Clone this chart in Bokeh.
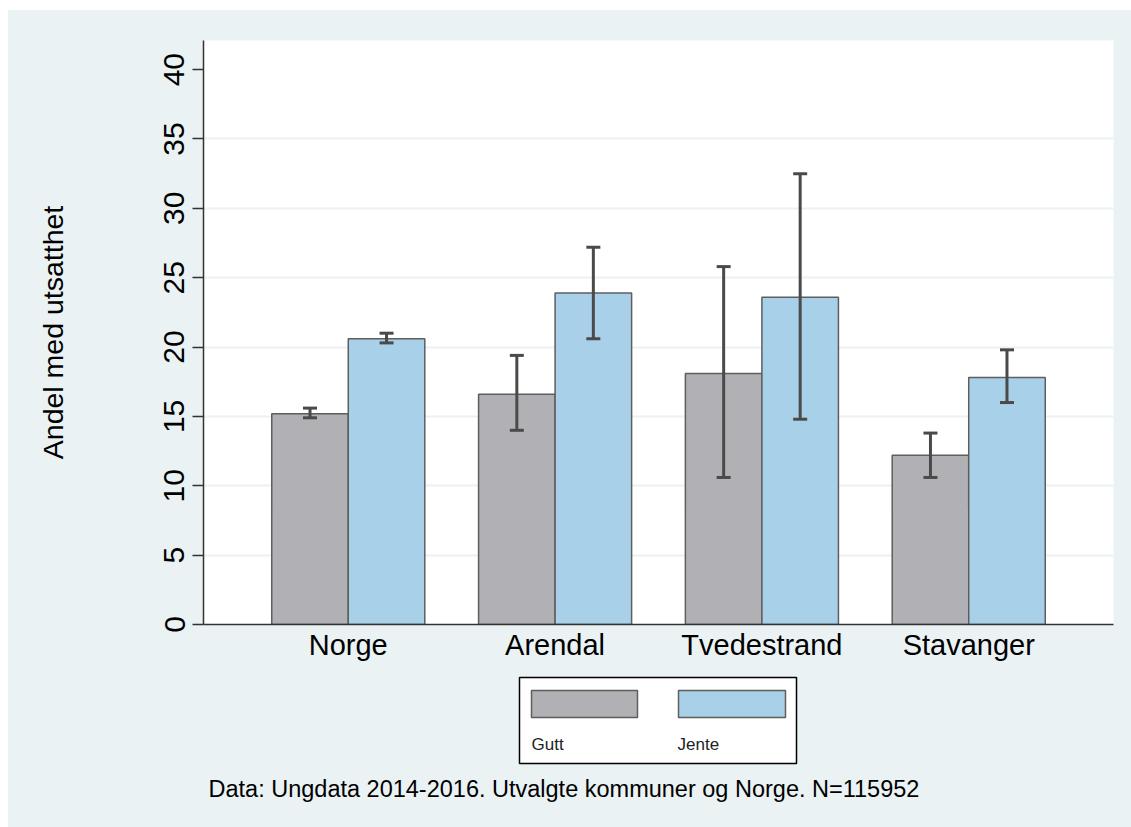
from bokeh.plotting import figure
from bokeh.models import (ColumnDataSource, FactorRange, Range1d, FixedTicker, Whisker,
                          TeeHead, Spacer)
from bokeh.layouts import column, row
from bokeh.transform import dodge
from bokeh.embed import file_html
from bokeh.resources import INLINE
from bokeh.core.properties import value

categories = ["Norge", "Arendal", "Tvedestrand", "Stavanger"]
gutt = [15.2, 16.6, 18.1, 12.2]
gutt_lo = [14.9, 14.0, 10.6, 10.6]
gutt_hi = [15.6, 19.4, 25.8, 13.8]
jente = [20.6, 23.9, 23.6, 17.8]
jente_lo = [20.3, 20.6, 14.8, 16.0]
jente_hi = [21.0, 27.2, 32.5, 19.8]
y_ticks = [0, 5, 10, 15, 20, 25, 30, 35, 40]
grid_ticks = [5, 10, 15, 20, 25, 30, 35]
series_labels = ["Gutt", "Jente"]
caption = "Data: Ungdata 2014-2016. Utvalgte kommuner og Norge. N=115952"

BG = "#eaf2f3"
GRAY = "#b1b1b5"
BLUE = "#a8d0e9"
EDGE = "#5e5e5e"
ERR = "#4a4a4a"
FONT = "Liberation Sans"

src = ColumnDataSource(dict(cat=categories, gutt=gutt, gutt_lo=gutt_lo, gutt_hi=gutt_hi,
                            jente=jente, jente_lo=jente_lo, jente_hi=jente_hi))

p = figure(frame_width=910, frame_height=584, output_backend="svg", toolbar_location=None,
           x_range=FactorRange(factors=categories, range_padding=0.1),
           y_range=Range1d(0, 42.1),
           min_border_left=195, min_border_right=18, min_border_top=30, min_border_bottom=50)
p.background_fill_color = "white"
p.border_fill_color = BG
p.outline_line_color = None

off = 0.185
bw = 0.37
p.vbar(x=dodge("cat", -off, range=p.x_range), top="gutt", width=bw, source=src,
       fill_color=GRAY, line_color=EDGE, line_width=1.5)
p.vbar(x=dodge("cat", off, range=p.x_range), top="jente", width=bw, source=src,
       fill_color=BLUE, line_color=EDGE, line_width=1.5)

for key, d in (("gutt", -off), ("jente", off)):
    w = Whisker(base=dodge("cat", d, range=p.x_range), upper=key + "_hi", lower=key + "_lo",
                source=src, line_color=ERR, line_width=3, level="overlay",
                upper_head=TeeHead(size=14, line_color=ERR, line_width=3),
                lower_head=TeeHead(size=14, line_color=ERR, line_width=3))
    p.add_layout(w)

# axes
p.xaxis.major_tick_line_color = None
p.xaxis.minor_tick_line_color = None
p.xaxis.axis_line_color = "#333333"
p.xaxis.axis_line_width = 1.5
p.xaxis.major_label_text_font = FONT
p.xaxis.major_label_text_font_size = "29px"
p.xaxis.major_label_text_color = "black"
p.xaxis.major_label_standoff = -2

p.yaxis.ticker = FixedTicker(ticks=y_ticks)
p.yaxis.major_tick_in = 0
p.yaxis.major_tick_out = 11
p.yaxis.minor_tick_line_color = None
p.yaxis.axis_line_color = "#333333"
p.yaxis.axis_line_width = 1.5
p.yaxis.major_tick_line_color = "#333333"
p.yaxis.major_tick_line_width = 1.5
p.yaxis.major_label_orientation = "vertical"
p.yaxis.major_label_text_font = FONT
p.yaxis.major_label_text_font_size = "30px"
p.yaxis.major_label_text_color = "black"
p.yaxis.major_label_standoff = 8
p.yaxis.axis_label = "Andel med utsatthet"
p.yaxis.axis_label_text_font = FONT
p.yaxis.axis_label_text_font_size = "28.5px"
p.yaxis.axis_label_text_font_style = "normal"
p.yaxis.axis_label_text_color = "black"
p.yaxis.axis_label_standoff = 93

p.xgrid.grid_line_color = None
p.ygrid.ticker = FixedTicker(ticks=grid_ticks)
p.ygrid.grid_line_color = BG
p.ygrid.grid_line_width = 2

# legend + caption panel; its frame is aligned with the main frame by the column layout,
# so its x data space is the figure's pixel space over the frame span (195..1105)
q = figure(width=1123, height=153, output_backend="svg", toolbar_location=None,
           x_range=Range1d(195, 1105), y_range=Range1d(0, 153),
           x_axis_type=None, y_axis_type=None, min_border=0,
           min_border_left=195, min_border_right=18)
q.background_fill_alpha = 0
q.border_fill_alpha = 0
q.outline_line_color = None
q.grid.grid_line_color = None

q.quad(left=[511], right=[788], top=[150], bottom=[64],
       fill_color="white", line_color="black", line_width=1.5)
q.quad(left=[523, 670], right=[629, 777], top=[137, 137], bottom=[110, 110],
       fill_color=[GRAY, BLUE], line_color=EDGE, line_width=1.5)
q.text(x=[523, 669], y=[83, 83], text=series_labels, text_font=value(FONT),
       text_font_size="17px", text_color="#222222", text_baseline="alphabetic")
q.text(x=[200], y=[39], text=[caption], text_font=value(FONT),
       text_font_size="23.5px", text_color="black", text_baseline="alphabetic")

inner = column(p, q, spacing=0, styles={"background-color": BG})
layout = column(Spacer(height=10), row(Spacer(width=8), inner, spacing=0), spacing=0)

open("out.html", "w").write(file_html(layout, INLINE))
